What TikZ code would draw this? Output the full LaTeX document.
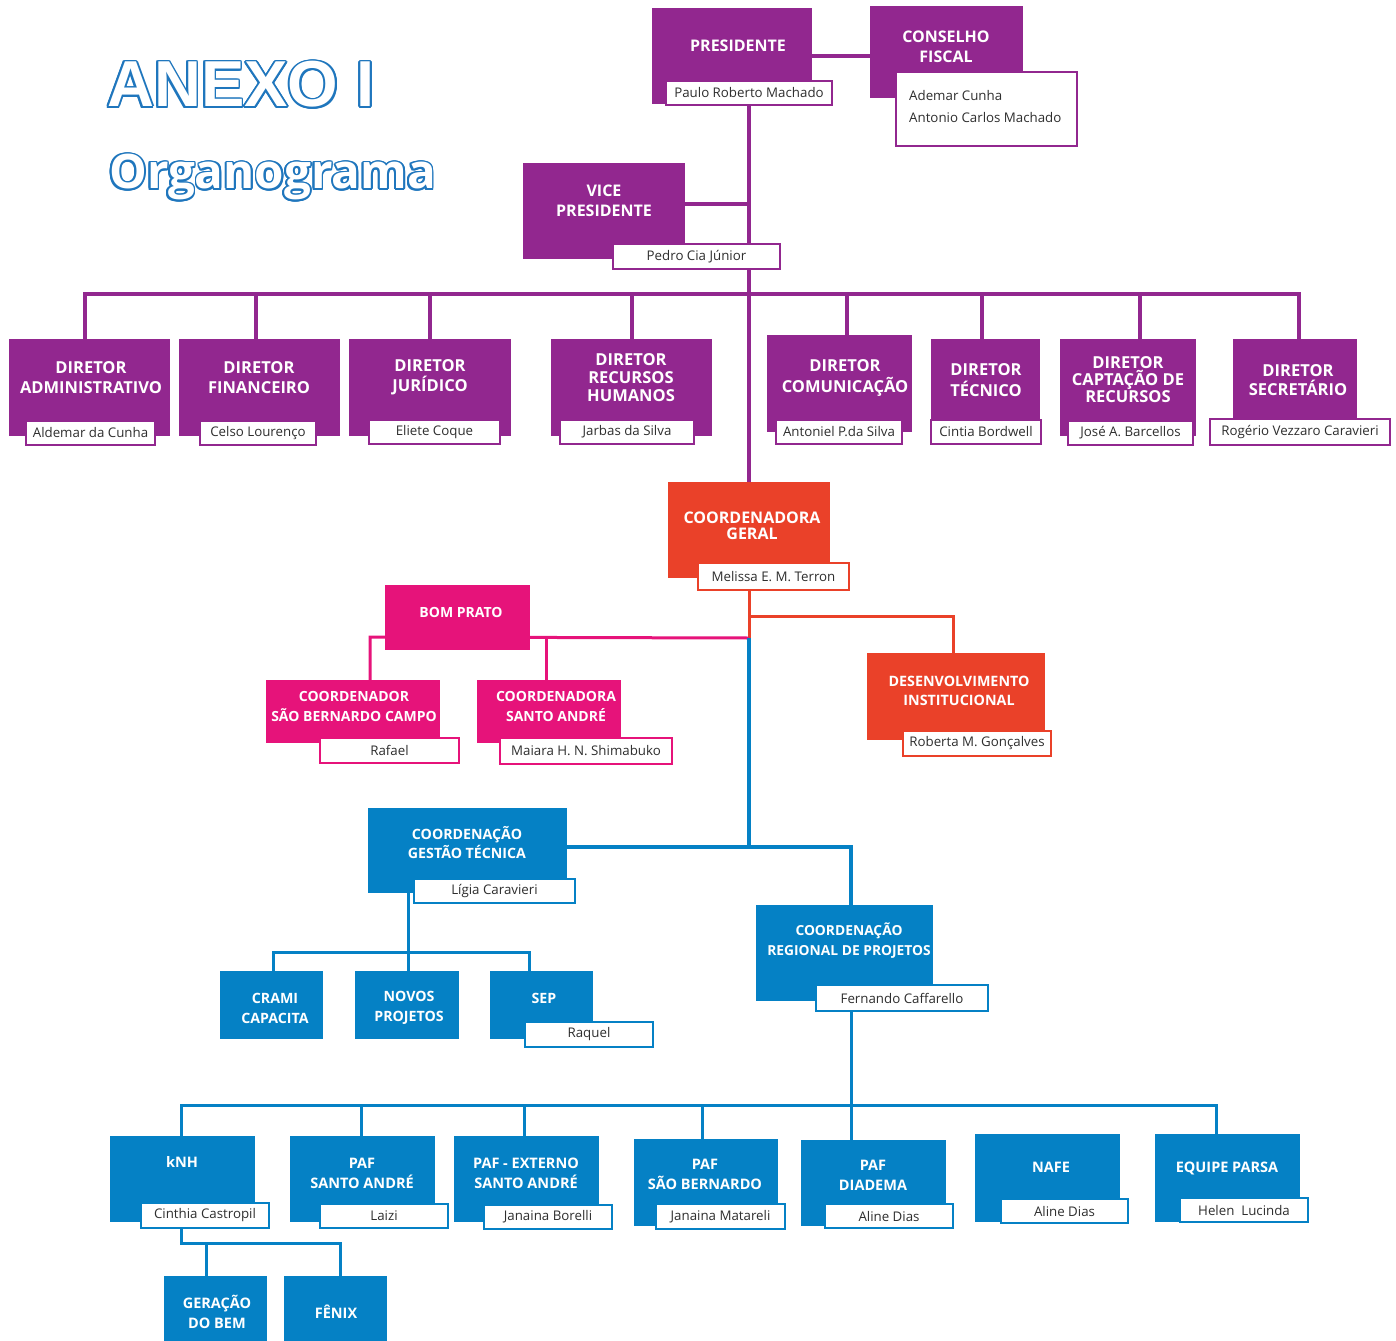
\documentclass[tikz,border=0pt]{standalone}
\usepackage{fontspec}
\setmainfont{Open Sans}
\newfontfamily\anexofont{Liberation Sans}
\usetikzlibrary{backgrounds}
\definecolor{purp}{HTML}{92278F}
\definecolor{orng}{HTML}{EA4129}
\definecolor{pnk}{HTML}{E6137A}
\definecolor{blu}{HTML}{0581C5}
\definecolor{ttl}{HTML}{1F76BD}
\definecolor{nametext}{HTML}{2E2E2E}
% id, x1, y1, x2, y2, colour, text x, text y, text
\newcommand\orgbox[9]{%
  \node[orgrect,fill=#6,minimum width={#4pt-#2pt},minimum height={#5pt-#3pt}] (#1) at ({(#2+#4)/2},{(#3+#5)/2}) {};
  \node[btext] (#1t) at (#7,#8) {#9};}
% id, x1, y1, x2, y2, colour, text
\newcommand\namebox[7]{%
  \node[nbox,draw=#6,minimum width={#4pt-#2pt},minimum height={#5pt-#3pt}] (#1) at ({(#2+#4)/2},{(#3+#5)/2}) {#7};}
\def\bsz{16}\def\bls{20}
\begin{document}
\begin{tikzpicture}[x=1pt,y=-1pt,
  orgrect/.style={rectangle,draw=none,inner sep=0pt,outer sep=0pt},
  btext/.style={text=white,font=\bfseries\fontsize{\bsz}{\bls}\selectfont,align=center,inner sep=0pt},
  nbox/.style={rectangle,fill=white,line width=1.8pt,inner sep=0pt,outer sep=0pt,text=nametext,font=\fontsize{13.3}{15}\selectfont},
  pl/.style={draw=purp,line width=4pt},
  ol/.style={draw=orng,line width=3pt},
  kl/.style={draw=pnk,line width=3pt},
  bl/.style={draw=blu,line width=3.5pt},
  bl2/.style={draw=blu,line width=3pt},
  ttlA/.style={font=\anexofont\bfseries\fontsize{65}{70}\selectfont,anchor=base west,inner sep=0pt},
  ttlB/.style={font=\bfseries\fontsize{47.5}{55}\selectfont,anchor=base west,inner sep=0pt}]
\useasboundingbox (0,0) rectangle (1396,1340);

% Title (outlined text)
\foreach \a [count=\i] in {0,22.5,...,337.5}{
  \node[ttlA,text=ttl] (ta\i) at ({107+1.8*cos(\a)},{107+1.8*sin(\a)}) {ANEXO I};
  \node[ttlB,text=ttl] (tb\i) at ({109+1.8*cos(\a)},{189+1.8*sin(\a)}) {Organograma};
}
\node[ttlA,text=white] (ta) at (107,107) {ANEXO I};
\node[ttlB,text=white] (tb) at (109,189) {Organograma};

% Purple level
\orgbox{pres}{652}{8}{812}{104}{purp}{738}{46}{PRESIDENTE}
\namebox{presn}{666}{81}{832}{105}{purp}{Paulo Roberto Machado}
\orgbox{cons}{870}{6}{1023}{98}{purp}{946}{47}{CONSELHO\\FISCAL}
\namebox{consn}{896}{72}{1077}{146}{purp}{}
\node[anchor=west,align=left,inner sep=0pt,text=nametext,font=\fontsize{13.3}{22}\selectfont] (consnt) at (909,107) {Ademar Cunha\\Antonio Carlos Machado};
\orgbox{vp}{523}{163}{685}{259}{purp}{604}{201}{VICE\\PRESIDENTE}
\namebox{vpn}{613}{244}{780}{269}{purp}{Pedro Cia Júnior}

\def\bsz{16.5}\def\bls{20}
\orgbox{dadm}{9}{339}{170}{436}{purp}{91}{378}{DIRETOR\\ADMINISTRATIVO}
\namebox{dadmn}{26}{421}{155}{445}{purp}{Aldemar da Cunha}
\orgbox{dfin}{179}{339}{340}{436}{purp}{259}{378}{DIRETOR\\FINANCEIRO}
\namebox{dfinn}{200}{421}{316}{445}{purp}{Celso Lourenço}
\orgbox{djur}{349}{339}{511}{436}{purp}{430}{377}{DIRETOR\\JURÍDICO}
\namebox{djurn}{369}{420}{500}{444}{purp}{Eliete Coque}
\def\bls{18}
\orgbox{drh}{551}{339}{712}{436}{purp}{631}{378}{DIRETOR\\RECURSOS\\HUMANOS}
\namebox{drhn}{560}{420}{694}{444}{purp}{Jarbas da Silva}
\def\bls{21}
\orgbox{dcom}{767}{335}{912}{432}{purp}{845}{378}{DIRETOR\\COMUNICAÇÃO}
\namebox{dcomn}{776}{420}{902}{444}{purp}{Antoniel P.da Silva}
\orgbox{dtec}{931}{339}{1040}{436}{purp}{986}{380}{DIRETOR\\TÉCNICO}
\namebox{dtecn}{931}{420}{1041}{444}{purp}{Cintia Bordwell}
\def\bls{17}
\orgbox{dcap}{1060}{339}{1196}{436}{purp}{1128}{380}{DIRETOR\\CAPTAÇÃO DE\\RECURSOS}
\namebox{dcapn}{1068}{421}{1193}{445}{purp}{José A. Barcellos}
\def\bls{19}
\orgbox{dsec}{1233}{339}{1357}{436}{purp}{1298}{380}{DIRETOR\\SECRETÁRIO}
\namebox{dsecn}{1210}{419}{1390}{445}{purp}{Rogério Vezzaro Caravieri}

% Orange
\def\bsz{16}\def\bls{16}
\orgbox{cg}{668}{482}{830}{578}{orng}{752}{526}{COORDENADORA\\GERAL}
\namebox{cgn}{698}{563}{849}{590}{orng}{Melissa E. M. Terron}
\def\bsz{14.3}\def\bls{19}
\orgbox{dev}{867}{653}{1045}{740}{orng}{959}{691}{DESENVOLVIMENTO\\INSTITUCIONAL}
\namebox{devn}{903}{731}{1051}{756}{orng}{Roberta M. Gonçalves}

% Pink
\def\bsz{14}\def\bls{20}
\orgbox{bp}{385}{585}{530}{650}{pnk}{461}{612}{BOM PRATO}
\orgbox{csb}{266}{680}{440}{743}{pnk}{354}{706}{COORDENADOR\\SÃO BERNARDO CAMPO}
\namebox{csbn}{320}{738}{459}{763}{pnk}{Rafael}
\orgbox{csa}{477}{680}{621}{743}{pnk}{556}{706}{COORDENADORA\\SANTO ANDRÉ}
\namebox{csan}{500}{738}{672}{764}{pnk}{Maiara H. N. Shimabuko}

% Blue
\def\bsz{14.2}\def\bls{19}
\orgbox{cgt}{368}{808}{567}{893}{blu}{467}{843}{COORDENAÇÃO\\GESTÃO TÉCNICA}
\namebox{cgtn}{414}{879}{575}{903}{blu}{Lígia Caravieri}
\def\bls{20}
\orgbox{crami}{220}{971}{323}{1039}{blu}{275}{1008}{CRAMI\\CAPACITA}
\orgbox{novos}{355}{971}{459}{1039}{blu}{409}{1008}{NOVOS\\PROJETOS}
\orgbox{sep}{490}{971}{593}{1039}{blu}{544}{998}{SEP}
\namebox{sepn}{525}{1022}{653}{1047}{blu}{Raquel}
\def\bsz{13.8}
\orgbox{crp}{756}{905}{933}{1001}{blu}{849}{941}{COORDENAÇÃO\\REGIONAL DE PROJETOS}
\namebox{crpn}{816}{985}{988}{1011}{blu}{Fernando Caffarello}

\def\bsz{14.5}
\orgbox{knh}{110}{1136}{255}{1222}{blu}{182}{1162}{kNH}
\namebox{knhn}{141}{1203}{269}{1228}{blu}{Cinthia Castropil}
\orgbox{psa}{290}{1136}{435}{1222}{blu}{362}{1173}{PAF\\SANTO ANDRÉ}
\namebox{psan}{320}{1204}{448}{1228}{blu}{Laizi}
\orgbox{pext}{454}{1136}{599}{1222}{blu}{526}{1173}{PAF - EXTERNO\\SANTO ANDRÉ}
\namebox{pextn}{484}{1205}{612}{1229}{blu}{Janaina Borelli}
\orgbox{psb}{634}{1139}{778}{1226}{blu}{705}{1174}{PAF\\SÃO BERNARDO}
\namebox{psbn}{656}{1204}{785}{1229}{blu}{Janaina Matareli}
\orgbox{pdia}{801}{1140}{946}{1226}{blu}{873}{1175}{PAF\\DIADEMA}
\namebox{pdian}{825}{1204}{953}{1228}{blu}{Aline Dias}
\orgbox{nafe}{975}{1134}{1120}{1222}{blu}{1051}{1167}{NAFE}
\namebox{nafen}{1001}{1199}{1128}{1223}{blu}{Aline Dias}
\orgbox{parsa}{1155}{1134}{1300}{1222}{blu}{1227}{1168}{EQUIPE PARSA}
\namebox{parsan}{1180}{1198}{1308}{1222}{blu}{Helen\ \ Lucinda}
\orgbox{ger}{164}{1276}{267}{1350}{blu}{217}{1312}{GERAÇÃO\\DO BEM}
\orgbox{fenix}{284}{1276}{387}{1350}{blu}{336}{1312}{FÊNIX}

% Connectors
\begin{scope}[on background layer]
\draw[pl] (pres.east) -- (pres.east -| cons.west);
\draw[pl] (presn.south) -- (presn.south |- cg.north);
\coordinate (vpj) at (749,204);
\draw[pl] (vpj -| vp.east) -- (vpj);
\coordinate (busL) at (85,294);
\coordinate (busR) at (1299,294);
\draw[pl] (busL |- dadm.north) -- (busL) -- (busR) -- (busR |- dsec.north);
\foreach \x/\n in {256/dfin,430/djur,632/drh,847/dcom,982/dtec,1140/dcap}{
  \coordinate (dd) at (\x,294);
  \draw[pl] (dd) -- (dd |- \n.north);
}
\coordinate (pj) at (749,638);
\coordinate (oj) at (749,616);
\coordinate (oj2) at (953,616);
\draw[ol] (cg.south) -- (pj);
\draw[ol] (oj) -- (oj2) -- (oj2 |- dev.north);
\coordinate (k1) at (370,637);
\coordinate (k2) at (546,637);
\draw[kl] (pj) -- (k1) -- (k1 |- csb.north);
\draw[kl] (k2) -- (k2 |- csa.north);
\coordinate (bj) at (749,847);
\coordinate (bj2) at (851,847);
\draw[bl] (pj) -- (bj);
\draw[bl] (bj -| cgt.east) -- (bj2) -- (bj2 |- crp.north);
\coordinate (g0) at (408,952);
\coordinate (gL) at (273,952);
\coordinate (gR) at (529,952);
\draw[bl2] (g0 |- cgt.south) -- (g0 |- novos.north);
\draw[bl2] (gL |- crami.north) -- (gL) -- (gR) -- (gR |- sep.north);
\coordinate (r0) at (851,1105);
\coordinate (rL) at (181,1105);
\coordinate (rR) at (1216,1105);
\draw[bl2] (r0 |- crp.south) -- (r0 |- pdia.north);
\draw[bl2] (rL |- knh.north) -- (rL) -- (rR) -- (rR |- parsa.north);
\foreach \x/\n in {361/psa,524/pext,702/psb}{
  \coordinate (rd) at (\x,1105);
  \draw[bl2] (rd) -- (rd |- \n.north);
}
\coordinate (kk0) at (181,1243);
\coordinate (kkr) at (340,1243);
\coordinate (kkg) at (206,1243);
\draw[bl2] (kk0 |- knh.south) -- (kk0) -- (kkr) -- (kkr |- fenix.north);
\draw[bl2] (kkg) -- (kkg |- ger.north);
\end{scope}
\end{tikzpicture}
\end{document}
